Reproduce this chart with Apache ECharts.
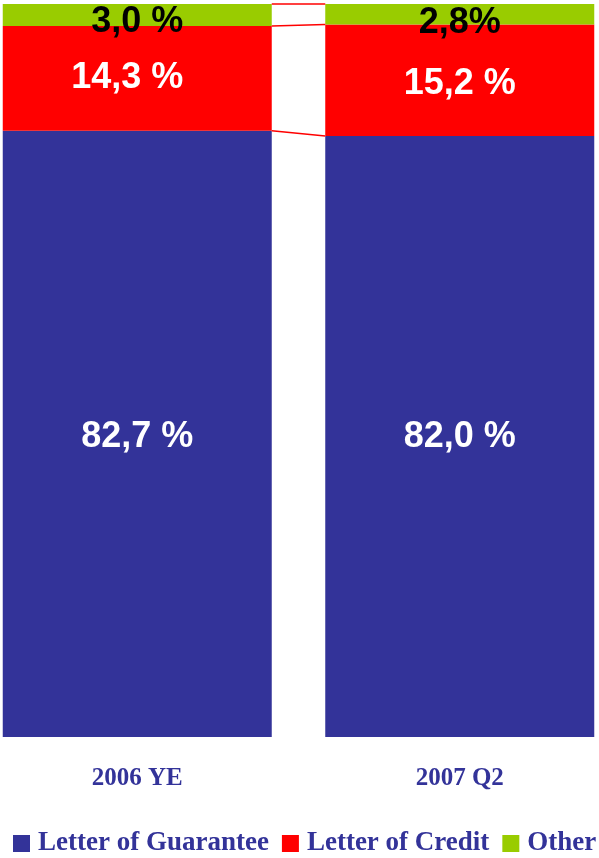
<!DOCTYPE html>
<html>
<head>
<meta charset="utf-8">
<script src="https://cdn.jsdelivr.net/npm/echarts@6/dist/echarts.min.js"></script>
<style>html,body{margin:0;padding:0;background:#fff;}#c{width:599px;height:858px;}</style>
</head>
<body>
<div id="c"></div>
<script>
var categories = ['2006 YE', '2007 Q2'];
var seriesNames = ['Letter of Guarantee', 'Letter of Credit', 'Other'];
var guarantee = [82.7, 82.0];
var credit = [14.3, 15.2];
var other = [3.0, 2.8];
var guaranteeLabels = ['82,7 %', '82,0 %'];
var creditLabels = ['14,3 %', '15,2 %'];
var otherLabels = ['3,0 %', '2,8%'];

var colors = ['#333399', '#FF0000', '#99CC00'];
var BAR_W = 269;

// cumulative tops of each segment for connector lines
var tops = [];
var cum0 = 0, cum1 = 0;
[guarantee, credit, other].forEach(function (arr) {
  cum0 += arr[0]; cum1 += arr[1];
  tops.push([Math.round(cum0 * 10) / 10, Math.round(cum1 * 10) / 10]);
});

function mkLabel(arr, color) {
  return {
    show: true,
    position: 'inside',
    color: color,
    fontFamily: 'Liberation Sans, Arial, sans-serif',
    fontWeight: 'bold',
    fontSize: 36,
    formatter: function (p) { return arr[p.dataIndex]; }
  };
}
// label nudges (styling only)
function withOffsets(values, offsets) {
  return values.map(function (v, i) {
    return {value: v, label: {offset: offsets[i]}};
  });
}

var chart = echarts.init(document.getElementById('c'), null, {renderer: 'canvas'});
chart.setOption({
  animation: false,
  grid: {left: -24, right: -22, top: 4, bottom: 121, containLabel: false, outerBoundsMode: 'none'},
  legend: {
    data: seriesNames,
    left: 13,
    top: 830,
    padding: 0,
    itemWidth: 17,
    itemHeight: 17,
    itemGap: 13,
    icon: 'rect',
    textStyle: {
      color: '#333399',
      fontFamily: 'Palatino Linotype, Book Antiqua, Liberation Serif, serif',
      fontWeight: 'bold',
      fontSize: 27,
      padding: [0, 0, 0, 3]
    }
  },
  xAxis: {
    type: 'category',
    data: categories,
    axisLine: {show: false},
    axisTick: {show: false},
    axisLabel: {
      margin: 29,
      color: '#333399',
      fontFamily: 'Palatino Linotype, Book Antiqua, Liberation Serif, serif',
      fontWeight: 'bold',
      fontSize: 25
    }
  },
  yAxis: {
    type: 'value', min: 0, max: 100,
    show: false,
    splitLine: {show: false}
  },
  series: [
    {
      name: seriesNames[0], type: 'bar', stack: 's', barWidth: BAR_W,
      itemStyle: {color: colors[0]},
      label: mkLabel(guaranteeLabels, '#ffffff'),
      data: withOffsets(guarantee, [[0, 3], [0, 1]])
    },
    {
      name: seriesNames[1], type: 'bar', stack: 's', barWidth: BAR_W,
      itemStyle: {color: colors[1]},
      label: mkLabel(creditLabels, '#ffffff'),
      data: withOffsets(credit, [[-10, 0], [0, 3.5]])
    },
    {
      name: seriesNames[2], type: 'bar', stack: 's', barWidth: BAR_W,
      itemStyle: {color: colors[2]},
      label: mkLabel(otherLabels, '#000000'),
      data: withOffsets(other, [[0, 7.5], [0, 8.5]])
    },
    {
      type: 'custom',
      silent: true,
      z: 5,
      data: tops,
      renderItem: function (params, api) {
        var a = api.coord([0, api.value(0)]);
        var b = api.coord([1, api.value(1)]);
        return {
          type: 'line',
          shape: {x1: a[0] + BAR_W / 2, y1: a[1], x2: b[0] - BAR_W / 2, y2: b[1]},
          style: {stroke: '#FF0000', lineWidth: 1.5}
        };
      },
      encode: {x: 0, y: 1}
    }
  ]
});
</script>
</body>
</html>
